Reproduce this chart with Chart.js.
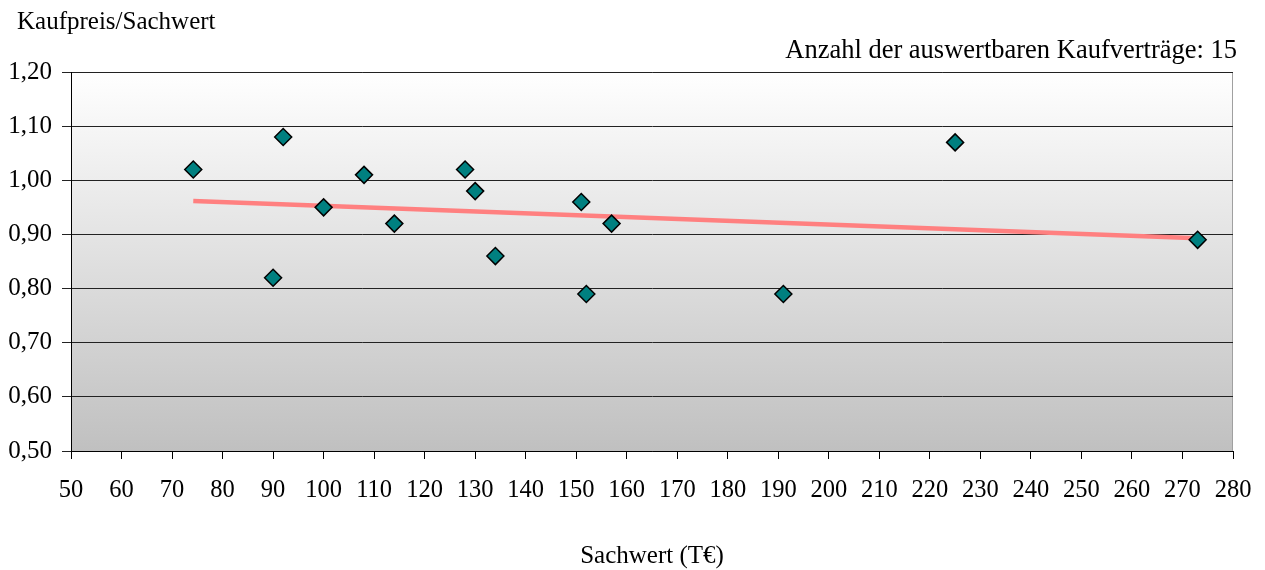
<!DOCTYPE html>
<html>
<head>
<meta charset="utf-8">
<script src="https://cdn.jsdelivr.net/npm/chart.js@4"></script>
<style>
  body { margin: 0; background: #fff; }
  #wrap { width: 1265px; height: 570px; }
</style>
</head>
<body>
<div id="wrap"><canvas id="myChart"></canvas></div>
<script>
'use strict';

// Sachwert (T€) und Kaufpreis/Sachwert der 15 Kaufverträge
const sachwert = [74.2, 92, 90, 100, 108, 114, 128, 130, 134, 151, 152, 157, 191, 225, 273];
const verhaeltnis = [1.02, 1.08, 0.82, 0.95, 1.01, 0.92, 1.02, 0.98, 0.86, 0.96, 0.79, 0.92, 0.79, 1.07, 0.89];
const yTicks = [0.5, 0.6, 0.7, 0.8, 0.9, 1.0, 1.1, 1.2];
const xTicks = [50, 60, 70, 80, 90, 100, 110, 120, 130, 140, 150, 160, 170, 180, 190, 200, 210, 220, 230, 240, 250, 260, 270, 280];

const yTitle = 'Kaufpreis/Sachwert';
const xTitle = 'Sachwert (T€)';
const anzahlText = 'Anzahl der auswertbaren Kaufverträge: 15';

// linear trend (least squares)
const n = sachwert.length;
const mx = sachwert.reduce((a, b) => a + b, 0) / n;
const my = verhaeltnis.reduce((a, b) => a + b, 0) / n;
let sxy = 0, sxx = 0;
for (let i = 0; i < n; i++) {
    sxy += (sachwert[i] - mx) * (verhaeltnis[i] - my);
    sxx += (sachwert[i] - mx) ** 2;
}
const slope = sxy / sxx;
const icpt = my - slope * mx;
const xMin = Math.min(...sachwert), xMax = Math.max(...sachwert);
const trend = [
    { x: xMin, y: icpt + slope * xMin },
    { x: xMax, y: icpt + slope * xMax }
];

const FONT = 'Liberation Serif';

const plotBg = {
    id: 'plotBg',
    beforeDraw(chart) {
        const { ctx, chartArea: a } = chart;
        const g = ctx.createLinearGradient(0, a.top, 0, a.bottom);
        g.addColorStop(0, '#ffffff');
        g.addColorStop(1, '#c0c0c0');
        ctx.save();
        ctx.fillStyle = g;
        ctx.fillRect(a.left, a.top, a.right - a.left, a.bottom - a.top);
        ctx.strokeStyle = '#a0a0a0';
        ctx.lineWidth = 1;
        ctx.beginPath();
        ctx.moveTo(a.left, a.top + 0.5);
        ctx.lineTo(a.right - 0.5, a.top + 0.5);
        ctx.lineTo(a.right - 0.5, a.bottom);
        ctx.stroke();
        ctx.restore();
    },
    afterDraw(chart) {
        const { ctx, chartArea: a } = chart;
        ctx.save();
        ctx.fillStyle = '#000';
        ctx.textBaseline = 'alphabetic';
        ctx.textAlign = 'left';
        ctx.font = '25px "' + FONT + '"';
        ctx.fillText(yTitle, 17, 29);
        ctx.textAlign = 'right';
        ctx.font = '26.5px "' + FONT + '"';
        ctx.fillText(anzahlText, 1237, 58);
        ctx.textAlign = 'center';
        ctx.font = '25px "' + FONT + '"';
        ctx.fillText(xTitle, (a.left + a.right) / 2, 563);
        ctx.restore();
    }
};

const ctx = document.getElementById('myChart').getContext('2d');
const myChart = new Chart(ctx, {
    type: 'scatter',
    data: {
        datasets: [{
            label: 'Kaufverträge',
            data: sachwert.map((x, i) => ({ x: x, y: verhaeltnis[i] })),
            pointStyle: 'rectRot',
            pointRadius: 8.5,
            pointHoverRadius: 8.5,
            backgroundColor: '#008080',
            borderColor: '#000000',
            borderWidth: 1.5,
            order: 1
        }, {
            label: 'Trend',
            type: 'line',
            data: trend,
            borderColor: '#ff8080',
            borderWidth: 4.5,
            pointRadius: 0,
            fill: false,
            order: 2
        }]
    },
    options: {
        responsive: true,
        maintainAspectRatio: false,
        animation: false,
        layout: { padding: { top: 72, right: 32, left: 0, bottom: 0 } },
        plugins: {
            legend: { display: false },
            tooltip: { enabled: false }
        },
        scales: {
            x: {
                type: 'linear',
                min: xTicks[0],
                max: xTicks[xTicks.length - 1],
                afterBuildTicks(scale) { scale.ticks = xTicks.map(v => ({ value: v })); },
                afterFit(scale) {
                    scale.height = 119;
                    scale.paddingLeft = 0;
                    scale.paddingRight = 0;
                },
                grid: { drawOnChartArea: false, drawTicks: true, tickLength: 8, color: '#000' },
                border: { color: '#000', width: 1 },
                ticks: {
                    autoSkip: false,
                    maxRotation: 0,
                    padding: 17,
                    color: '#000',
                    font: { family: FONT, size: 24.5 }
                }
            },
            y: {
                min: yTicks[0],
                max: yTicks[yTicks.length - 1],
                afterBuildTicks(scale) { scale.ticks = yTicks.map(v => ({ value: v })); },
                afterFit(scale) {
                    scale.width = 71;
                    scale.paddingTop = 0;
                    scale.paddingBottom = 0;
                },
                grid: { drawTicks: true, tickLength: 9, color: '#222', lineWidth: 1 },
                border: { color: '#000', width: 1 },
                ticks: {
                    padding: 10,
                    color: '#000',
                    font: { family: FONT, size: 25 },
                    callback: v => v.toFixed(2).replace('.', ',')
                }
            }
        }
    },
    plugins: [plotBg]
});
</script>
</body>
</html>
